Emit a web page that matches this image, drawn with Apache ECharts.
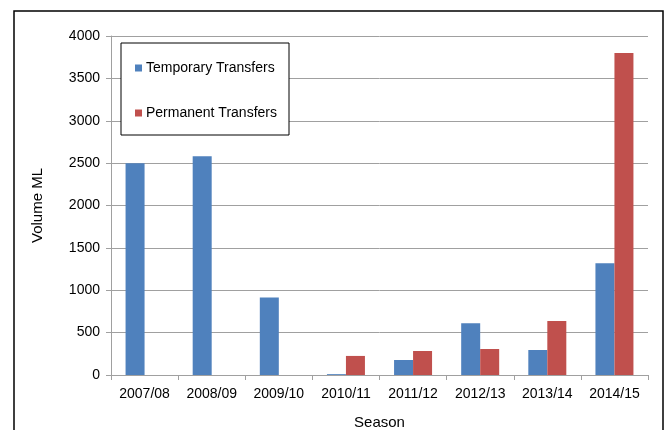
<!DOCTYPE html>
<html>
<head>
<meta charset="utf-8">
<script src="https://cdn.jsdelivr.net/npm/echarts@6/dist/echarts.min.js"></script>
<style>
	html,body{margin:0;padding:0;background:#fff;}
	#chart{width:668px;height:430px;}
</style>
</head>
<body>
<div id="chart"></div>
<script>
var seasons = ['2007/08','2008/09','2009/10','2010/11','2011/12','2012/13','2013/14','2014/15'];
var temporary = [2500, 2580, 915, 10, 177, 610, 295, 1318];
var permanent = [0, 0, 0, 225, 283, 307, 637, 3800];
var yTicks = [0, 500, 1000, 1500, 2000, 2500, 3000, 3500, 4000];

var font = 'Liberation Sans, Arial, sans-serif';
var chart = echarts.init(document.getElementById('chart'));

var option = {
	animation:false,
	backgroundColor:'#fff',
	textStyle:{fontFamily:font},
	graphic:[
		{
			type:'rect',
			shape:{x:14, y:11, width:649, height:430},
			style:{fill:null, stroke:'#000', lineWidth:1.5},
			silent:true
		},
		{
			type:'rect',
			z:100,
			shape:{x:121, y:43, width:168, height:92},
			style:{fill:'#fff', stroke:'#000', lineWidth:1},
			silent:true
		}
	],
	legend:{
		z:101,
		orient:'vertical',
		left:130,
		top:56,
		itemGap:31,
		itemWidth:7,
		itemHeight:7,
		icon:'rect',
		textStyle:{fontFamily:font, fontSize:14, color:'#000', padding:[0,0,0,-1]},
		data:['Temporary Transfers','Permanent Transfers']
	},
	grid:{left:111, right:20, top:36, bottom:55, outerBoundsMode:'none', containLabel:false},
	xAxis:{
		type:'category',
		data:seasons,
		name:'Season',
		nameLocation:'middle',
		nameGap:40,
		nameTextStyle:{fontFamily:font, fontSize:15, color:'#000'},
		axisLine:{lineStyle:{color:'#a0a0a0', width:1}},
		axisTick:{show:true, length:5, lineStyle:{color:'#a0a0a0'}},
		axisLabel:{fontFamily:font, fontSize:14, color:'#000', margin:12}
	},
	yAxis:{
		type:'value',
		min:yTicks[0],
		max:yTicks[yTicks.length-1],
		interval:500,
		name:'Volume ML',
		nameLocation:'middle',
		nameGap:66,
		nameTextStyle:{fontFamily:font, fontSize:15, color:'#000'},
		axisLine:{show:true, lineStyle:{color:'#a0a0a0', width:1}},
		axisTick:{show:true, length:5, lineStyle:{color:'#a0a0a0'}},
		axisLabel:{fontFamily:font, fontSize:14, color:'#000', margin:11, formatter:function(v){return String(v);}},
		splitLine:{lineStyle:{color:'#a0a0a0', width:1}}
	},
	series:[
		{
			name:'Temporary Transfers',
			type:'bar',
			data:temporary,
			barWidth:19,
			barGap:'0%',
			itemStyle:{color:'#4f81bd'}
		},
		{
			name:'Permanent Transfers',
			type:'bar',
			data:permanent,
			barWidth:19,
			itemStyle:{color:'#c0504d'}
		}
	]
};
chart.setOption(option);
</script>
</body>
</html>
